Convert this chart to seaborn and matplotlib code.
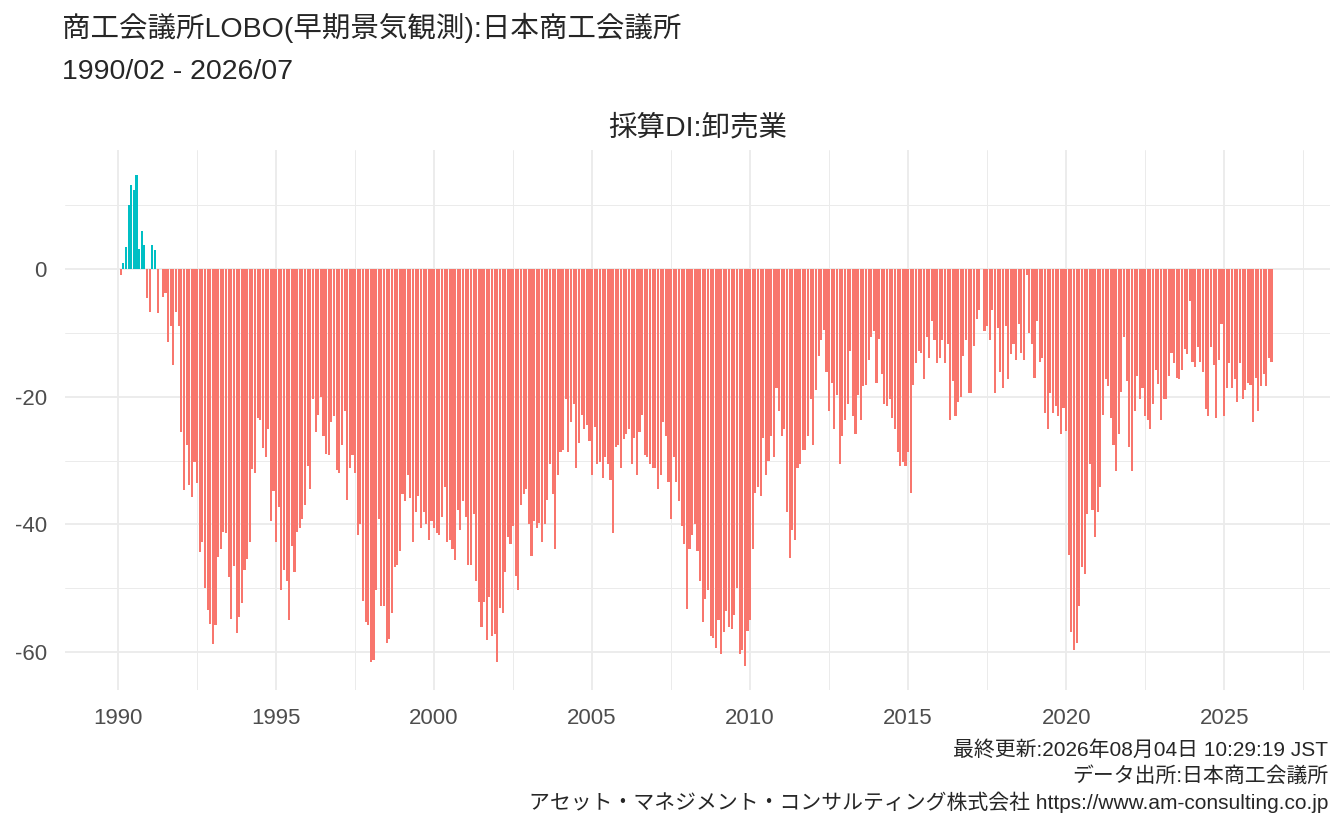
import numpy as np
import pandas as pd
import matplotlib
matplotlib.use('Agg')
import matplotlib.pyplot as plt
import seaborn as sns

# 採算DI (卸売業), monthly from 1990/02
di_from_1990_02 = [-1.0, 0.9, 3.4, 10.0, 13.1, 12.3, 14.7, 3.1, 5.9, 3.7, -4.5,
                   -6.7, 3.7, 3.0, -6.9, 0.0, -4.4, -3.8, -11.4, -8.9, -15.0, -6.7, -8.9,
                   -25.5, -34.6, -27.5, -33.8, -35.7, -30.2, -33.5, -44.3, -42.7, -49.9, -53.4, -55.6,
                   -58.7, -55.7, -45.1, -43.8, -41.2, -41.3, -48.2, -54.8, -46.5, -57.0, -54.5, -52.3]
di_from_1994_01 = [-47.2, -45.4, -42.8, -31.3, -31.9, -23.3, -23.6, -28.0, -29.4, -25.0,
                   -39.4, -34.8, -42.8, -37.2, -50.2, -47.2, -48.9, -55.0, -43.3, -47.5,
                   -41.1, -40.5, -39.2, -37.0, -30.9, -34.5, -20.3, -25.6, -22.8, -20.1,
                   -26.2, -28.9, -29.1, -23.9, -23.0, -31.4, -32.0, -27.6, -22.2, -36.1,
                   -31.2, -29.1, -31.9, -41.7, -39.9, -51.9, -55.3, -55.7, -61.5, -61.2]
di_from_1998_03 = [-50.2, -39.2, -52.8, -52.7, -58.5, -57.9, -53.9, -46.7, -46.4, -44.2,
                   -35.2, -36.3, -32.3, -35.9, -42.7, -38.0, -35.5, -40.6, -38.0, -39.9,
                   -42.4, -39.4, -40.5, -41.3, -41.6, -38.9, -34.1, -42.8, -42.5, -43.8,
                   -45.6, -37.8, -40.9, -36.3, -38.8, -46.4, -46.4, -38.4, -48.9, -52.1,
                   -56.0, -52.2, -58.0, -51.4, -57.5, -57.2, -61.5, -53.0, -53.9]
di_from_2002_04 = [-47.4, -41.9, -43.0, -40.3, -48.0, -50.2, -37.0, -35.2, -34.4, -39.9,
                   -44.9, -39.5, -40.6, -39.7, -42.7, -40.0, -36.1, -30.5, -35.2, -43.8,
                   -32.3, -28.6, -28.3, -20.3, -28.7, -23.9, -21.2, -31.2, -27.3, -22.8,
                   -25.1, -24.4, -27.0, -32.3, -24.7, -30.5, -30.2, -32.8, -29.5, -30.5,
                   -33.0, -41.4, -27.8, -27.5, -31.2, -26.6, -25.8, -25.0, -30.5]
di_from_2006_05 = [-26.4, -32.3, -25.5, -22.8, -29.2, -29.4, -30.5, -31.2, -31.2, -34.4,
                   -32.3, -24.0, -26.2, -33.3, -39.1, -29.4, -33.4, -36.3, -40.3, -43.1,
                   -53.2, -43.9, -41.6, -39.9, -44.1, -48.9, -55.2, -51.6, -50.2, -57.5,
                   -57.7, -59.4, -55.0, -60.2, -56.8, -53.6, -56.1, -56.3, -54.1, -49.9,
                   -60.2, -59.6, -62.1, -56.6, -54.9, -43.9, -35.0, -34.2, -35.6, -26.4]
di_from_2010_07 = [-32.2, -30.0, -26.2, -29.4, -18.7, -22.3, -26.1, -25.0, -38.1, -45.3,
                   -40.8, -42.5, -31.1, -30.6, -28.3, -28.3, -26.2, -20.4, -27.5, -18.9,
                   -13.6, -11.2, -9.5, -16.1, -22.3, -17.9, -25.1, -19.7, -30.5, -26.1,
                   -23.6, -21.2, -12.8, -23.1, -25.9, -19.7, -23.7, -18.3, -18.1, -14.2,
                   -10.6, -9.7, -17.8, -10.9, -16.4, -21.1, -21.4, -20.3, -23.3]
di_from_2014_08 = [-25.0, -28.6, -30.8, -30.2, -30.9, -28.6, -35.0, -18.1, -14.8, -12.9,
                   -13.1, -17.2, -10.6, -13.9, -8.1, -11.2, -14.7, -14.0, -11.2, -14.7,
                   -11.7, -23.7, -17.6, -23.0, -20.9, -20.0, -13.7, -11.2, -19.5, -19.5,
                   -12.0, -7.8, -6.5, 0.0, -9.8, -8.9, -11.2, -6.4, -19.4, -9.2,
                   -16.1, -18.7, -8.9, -17.2, -13.4, -11.7, -14.3, -8.7, -13.1, -14.2]
di_from_2018_10 = [-0.9, -10.0, -11.7, -17.1, -8.1, -14.5, -13.9, -22.5, -25.0, -19.4,
                   -22.6, -21.5, -23.0, -25.9, -21.7, -25.3, -44.7, -56.9, -59.7, -58.6,
                   -52.7, -46.7, -47.8, -38.4, -30.6, -37.8, -41.9, -38.1, -34.1, -22.8,
                   -17.3, -18.3, -23.4, -27.6, -31.6, -25.9, -19.2, -10.6, -17.5, -27.9,
                   -31.6, -22.3, -16.7, -20.3, -18.6, -23.0, -23.7, -25.1, -21.1]
di_from_2022_11 = [-15.8, -18.0, -23.6, -20.3, -20.3, -16.7, -13.1, -14.7, -17.0, -17.3,
                   -15.8, -12.5, -13.4, -5.0, -14.5, -15.4, -12.2, -14.5, -16.1, -21.9,
                   -23.1, -12.3, -15.1, -23.4, -14.2, -8.7, -23.1, -18.6, -14.8, -18.6,
                   -17.3, -20.9, -14.8, -20.4, -18.9, -17.8, -18.1, -24.0, -17.0, -22.2,
                   -18.3, -16.4, -18.3, -14.0, -14.5]

x_ticks = [1990, 1995, 2000, 2005, 2010, 2015, 2020, 2025]
y_ticks = [-60, -40, -20, 0]

title = '商工会議所LOBO(早期景気観測):日本商工会議所'
subtitle = '1990/02 - 2026/07'
panel_title = '採算DI:卸売業'
caption = ['最終更新:2026年08月04日 10:29:19 JST',
           'データ出所:日本商工会議所',
           'アセット・マネジメント・コンサルティング株式会社 https://www.am-consulting.co.jp']

di = (di_from_1990_02 + di_from_1994_01 + di_from_1998_03 + di_from_2002_04 +
      di_from_2006_05 + di_from_2010_07 + di_from_2014_08 + di_from_2018_10 +
      di_from_2022_11)

df = pd.DataFrame({'date': pd.date_range('1990-02-01', periods=len(di), freq='MS'),
                   'di': di})
df['x'] = df['date'].dt.year + (df['date'].dt.month - 1) / 12
df['sign'] = np.where(df['di'] > 0, 'plus', 'minus')

sns.set_theme(style='white')
plt.rcParams['font.family'] = ['Liberation Sans', 'Noto Sans CJK JP', 'DejaVu Sans']

W, H = 1344, 830
fig = plt.figure(figsize=(W / 100, H / 100), dpi=100)
ax = fig.add_axes([65 / W, 1 - 690 / H, (1330 - 65) / W, (690 - 150) / H])

sns.barplot(data=df, x='x', y='di', hue='sign',
            palette={'plus': '#00BFC4', 'minus': '#F8766D'},
            native_scale=True, dodge=False, legend=False, errorbar=None,
            width=0.8, saturation=1, linewidth=0, ax=ax)

ax.set_xlim(1988.32, 2028.35)
ax.set_ylim(-65.9, 18.6)
ax.set_xticks(x_ticks)
ax.set_xticklabels([str(t) for t in x_ticks])
ax.set_xticks(np.arange(1992.5, 2028, 5), minor=True)
ax.set_yticks(y_ticks)
ax.set_yticklabels([str(t) for t in y_ticks])
ax.set_yticks([-50, -30, -10, 10], minor=True)
ax.grid(which='major', color='#EBEBEB', linewidth=1.3)
ax.grid(which='minor', color='#EBEBEB', linewidth=0.7)
ax.set_axisbelow(True)
for s in ax.spines.values():
    s.set_visible(False)
ax.tick_params(which='both', length=0)
ax.tick_params(axis='x', pad=13, labelsize=16, labelcolor='#4D4D4D')
ax.tick_params(axis='y', pad=13, labelsize=16, labelcolor='#4D4D4D')
ax.set_xlabel('')
ax.set_ylabel('')

fig.text(62 / W, 1 - 28 / H, title, fontsize=20.5, ha='left', va='center')
fig.text(62 / W, 1 - 72 / H, subtitle, fontsize=20.5, ha='left', va='center')
fig.text((65 + 1330) / 2 / W, 1 - 128 / H, panel_title, fontsize=20.5,
         ha='center', va='center')
for k, line in enumerate(caption):
    fig.text(1328 / W, 1 - (750 + 26 * k) / H, line, fontsize=15,
             ha='right', va='center')

fig.savefig('out.png', dpi=100)
